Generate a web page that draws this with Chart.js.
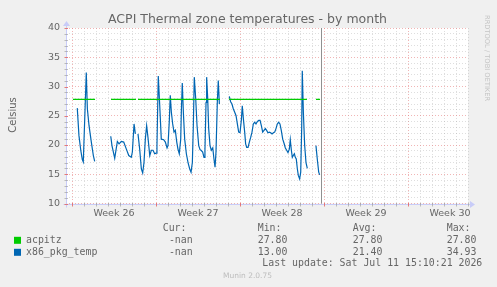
<!DOCTYPE html>
<html>
<head>
<meta charset="utf-8">
<script src="https://cdn.jsdelivr.net/npm/chart.js@4/dist/chart.umd.min.js"></script>
<style>
html,body{margin:0;padding:0;background:#f0f0f0;}
canvas{display:block;}
</style>
</head>
<body>
<canvas id="c" width="497" height="287"></canvas>
<script>
// ---- data (x in days from start of Week 26) ----
const title = "ACPI Thermal zone temperatures - by month";
const yAxisTitle = "Celsius";
const weekLabels = ["Week 26", "Week 27", "Week 28", "Week 29", "Week 30"];
const weekCenters = [3.5, 10.5, 17.5, 24.5, 31.5];
const yTickLabels = [10, 15, 20, 25, 30, 35, 40];
const seriesNames = ["acpitz", "x86_pkg_temp"];
const seriesColors = ["#00CC00", "#0066B3"];
const legendCur = ["-nan", "-nan"];
const legendMin = ["27.80", "13.00"];
const legendAvg = ["27.80", "21.40"];
const legendMax = ["27.80", "34.93"];
const lastUpdate = "Last update: Sat Jul 11 15:10:21 2026";
const nowMarkerDay = 20.71;

const acpitzDays  = [0.08, 1.92, 2.5, 3.25, 5.33, 5.4, 5.50, 12.33, 12.7, 13.08, 19.58, 20.0, 20.33, 20.67];
const acpitzTemps = [27.8, 27.8, null, 27.8, 27.8, null, 27.8, 27.8, null, 27.8, 27.8, null, 27.8, 27.8];

const pkgDays = [
  0.44,0.58,0.73,0.86,0.94,1.19,1.28,1.42,1.61,1.78,1.89,
  2.5,
  3.23,3.33,3.56,3.78,3.92,4.11,4.31,4.53,4.73,4.94,5.03,5.17,5.28,
  5.4,
  5.50,5.64,5.78,5.89,6.00,6.11,6.22,6.33,6.48,6.61,6.75,6.89,7.00,7.08,7.19,7.31,7.44,7.64,7.78,7.92,
  8.00,8.11,8.19,8.28,8.39,8.50,8.61,8.73,8.83,8.94,9.06,9.11,9.19,9.28,9.39,9.53,9.67,9.81,9.92,
  10.03,10.11,10.19,10.31,10.42,10.56,10.67,10.75,10.89,11.00,11.08,11.17,11.22,11.31,11.39,11.50,
  11.61,11.73,11.83,11.92,12.00,12.11,12.19,12.28,
  12.7,
  13.11,13.22,13.33,13.44,13.56,13.67,13.78,13.89,14.00,14.11,14.19,14.28,14.39,14.47,14.56,14.67,
  14.78,14.89,15.00,15.11,15.22,15.33,15.44,15.56,15.67,15.78,15.89,16.00,16.11,16.22,16.33,16.44,
  16.56,16.67,16.78,16.89,17.00,17.11,17.22,17.33,17.44,17.56,17.67,17.78,17.89,18.00,18.11,18.19,
  18.28,18.36,18.44,18.53,18.61,18.69,18.78,18.86,18.97,19.06,19.14,19.19,19.28,19.39,19.50,19.61,
  20.0,
  20.33,20.44,20.56,20.64
];
const pkgTemps = [
  26.3,21.6,19.1,17.5,17.1,32.4,26.2,23.3,20.5,18.2,17.2,
  null,
  21.5,19.9,17.75,20.6,20.2,20.6,20.5,19.3,18.2,17.9,18.8,23.6,21.9,
  null,
  21.9,19.3,15.9,15.2,17.0,21.0,23.3,21.3,18.2,19.1,19.1,18.5,18.6,19.9,31.8,26.75,21.0,20.9,20.5,19.5,
  19.9,24.2,28.5,25.6,23.6,22.2,22.5,20.5,19.3,18.5,21.0,25.6,30.6,25.6,21.0,18.5,17.0,15.9,15.35,
  17.0,23.3,31.6,27.9,23.3,19.9,19.2,19.1,18.8,17.9,19.3,27.3,31.6,27.9,22.8,19.9,
  19.1,19.5,17.6,16.2,18.8,27.3,31.0,27.0,
  null,
  28.3,27.4,27.0,26.2,25.6,25.0,23.6,22.2,22.1,24.2,26.7,24.5,22.2,20.2,19.6,19.6,
  20.5,21.3,22.2,23.6,23.9,23.6,24.0,24.2,24.2,23.3,22.2,22.5,22.8,22.5,22.1,22.2,
  22.1,21.9,22.1,22.2,22.8,23.6,23.9,23.6,22.5,21.0,20.3,19.5,19.1,18.7,19.3,20.9,
  19.1,17.9,18.2,18.5,17.9,17.6,15.9,14.8,14.2,15.35,22.8,32.7,25.6,19.9,17.0,16.0,
  null,
  19.9,17.6,15.35,14.9
];

function toPoints(xs, ys){ return xs.map((x,i)=>({x:x, y:ys[i]})); }

const FONT = "'DejaVu Sans', sans-serif";
const MONO = "'DejaVu Sans Mono', monospace";
const TEXT = "#666666";
const AXIS = "#C8CCF8";
const GRID_MINOR = "rgba(160,160,160,0.35)";
const GRID_MAJOR = "rgba(230,120,120,0.55)";

const decor = {
  id: 'decor',
  beforeDraw(chart){
    const c = chart.ctx, a = chart.chartArea;
    c.save();
    c.fillStyle = '#F0F0F0';
    c.fillRect(0,0,chart.width,chart.height);
    c.fillStyle = '#FFFFFF';
    c.fillRect(a.left, a.top, a.right-a.left, a.bottom-a.top);
    c.restore();
  },
  afterDatasetsDraw(chart){
    const c = chart.ctx, a = chart.chartArea;
    const xs = chart.scales.x, ys = chart.scales.y;
    c.save();
    c.setLineDash([]);
    // now marker
    const nx = Math.round(xs.getPixelForValue(nowMarkerDay)) + 0.5;
    c.strokeStyle = '#909090'; c.lineWidth = 1;
    c.beginPath(); c.moveTo(nx, a.top); c.lineTo(nx, a.bottom); c.stroke();

    // axes
    const ax = Math.round(a.left)+0.5, ay = Math.round(a.bottom)+0.5;
    c.strokeStyle = AXIS; c.fillStyle = AXIS;
    c.beginPath(); c.moveTo(ax-3, ay); c.lineTo(a.right+4, ay); c.stroke();
    c.beginPath(); c.moveTo(ax, ay+3); c.lineTo(ax, a.top-4); c.stroke();
    c.beginPath(); c.moveTo(a.right+7, ay); c.lineTo(a.right+2, ay-3.5); c.lineTo(a.right+2, ay+3.5); c.closePath(); c.fill();
    c.beginPath(); c.moveTo(ax, a.top-7); c.lineTo(ax-3.5, a.top-2); c.lineTo(ax+3.5, a.top-2); c.closePath(); c.fill();
    // small tick marks
    for (let d=0; d<=33; d++){
      const px = Math.round(xs.getPixelForValue(d))+0.5;
      c.strokeStyle = d%7===0 ? 'rgba(225,110,110,0.9)' : 'rgba(150,150,150,0.6)';
      c.beginPath(); c.moveTo(px, ay-1.5); c.lineTo(px, ay+2); c.stroke();
    }
    for (let v=10; v<=40; v++){
      const py = Math.round(ys.getPixelForValue(v))+0.5;
      c.strokeStyle = v%5===0 ? 'rgba(225,110,110,0.9)' : 'rgba(150,150,150,0.6)';
      c.beginPath(); c.moveTo(ax-2, py); c.lineTo(ax+1.5, py); c.stroke();
    }

    // title
    c.fillStyle = TEXT;
    c.font = "12.5px " + FONT;
    c.textAlign = 'center'; c.textBaseline = 'middle';
    c.fillText(title, 247.5, 19.5);

    // y axis title
    c.save();
    c.translate(13, 115); c.rotate(-Math.PI/2);
    c.font = "10px " + FONT;
    c.fillText(yAxisTitle, 0, 0);
    c.restore();

    // right side credit
    c.save();
    c.translate(487, 15); c.rotate(Math.PI/2);
    c.font = "6.7px " + FONT;
    c.fillStyle = '#c4c4c4';
    c.textAlign = 'left';
    c.fillText("RRDTOOL / TOBI OETIKER", 0, 0);
    c.restore();

    // legend
    c.font = "9.9px " + MONO;
    c.textAlign = 'left';
    c.fillStyle = TEXT;
    c.fillText("Cur:", 162.7, 228);
    c.fillText("Min:", 257.7, 228);
    c.fillText("Avg:", 352.7, 228);
    c.fillText("Max:", 446.7, 228);
    const rowsY = [240.3, 252.3];
    for (let i=0;i<2;i++){
      const y = rowsY[i];
      c.fillStyle = seriesColors[i];
      c.fillRect(14, y-3.5, 7, 7);
      c.fillStyle = TEXT;
      c.textAlign = 'left';
      c.fillText(seriesNames[i], 26, y);
      c.textAlign = 'right';
      c.fillText(legendCur[i], 192.7, y);
      c.textAlign = 'left';
      c.fillText(legendMin[i], 257.7, y);
      c.fillText(legendAvg[i], 352.7, y);
      c.fillText(legendMax[i], 446.7, y);
    }
    c.textAlign = 'right';
    c.fillText(lastUpdate, 482.3, 263.6);

    c.textAlign = 'center';
    c.font = "7.5px " + FONT;
    c.fillStyle = '#bdbdbd';
    c.fillText("Munin 2.0.75", 247.5, 276);
    c.restore();
  }
};

new Chart(document.getElementById('c'), {
  type: 'line',
  data: {
    datasets: [
      { label: seriesNames[0], data: toPoints(acpitzDays, acpitzTemps), borderColor: seriesColors[0],
        borderWidth: 1.3, pointRadius: 0, spanGaps: false, tension: 0, fill: false },
      { label: seriesNames[1], data: toPoints(pkgDays, pkgTemps), borderColor: seriesColors[1],
        borderWidth: 1.2, pointRadius: 0, spanGaps: false, tension: 0, fill: false }
    ]
  },
  options: {
    responsive: false,
    animation: false,
    events: [],
    layout: { padding: { top: 28, right: 29, left: 0, bottom: 0 } },
    plugins: { legend: { display: false }, tooltip: { enabled: false } },
    scales: {
      x: {
        type: 'linear', min: -0.5, max: 33,
        afterBuildTicks(s){
          const t = [];
          for (let v=0; v<=33; v+=0.5) t.push({value: v});
          s.ticks = t;
        },
        afterFit(s){ s.height = 287 - 203.5; },
        ticks: {
          autoSkip: false, maxRotation: 0, minRotation: 0, padding: 4,
          color: TEXT, font: { family: "DejaVu Sans", size: 9.5 },
          callback(v){ const i = weekCenters.indexOf(v); return i>=0 ? weekLabels[i] : ''; }
        },
        grid: {
          drawTicks: false,
          color(ctx){ const v = ctx.tick ? ctx.tick.value : 0;
            if (v % 1 !== 0) return 'rgba(0,0,0,0)';
            return v % 7 === 0 ? GRID_MAJOR : GRID_MINOR; },
          lineWidth: 1
        },
        border: { display: false, dash: [1, 2] }
      },
      y: {
        min: 10, max: 40,
        afterFit(s){ s.width = 66; },
        ticks: {
          stepSize: 1, autoSkip: false, padding: 6,
          color: TEXT, font: { family: "DejaVu Sans", size: 9.5 },
          callback(v){ return yTickLabels.includes(v) ? String(v) : ''; }
        },
        grid: {
          drawTicks: false,
          color(ctx){ const v = ctx.tick ? ctx.tick.value : 0;
            return v % 5 === 0 ? GRID_MAJOR : GRID_MINOR; },
          lineWidth: 1
        },
        border: { display: false, dash: [1, 2] }
      }
    }
  },
  plugins: [decor]
});
</script>
</body>
</html>
